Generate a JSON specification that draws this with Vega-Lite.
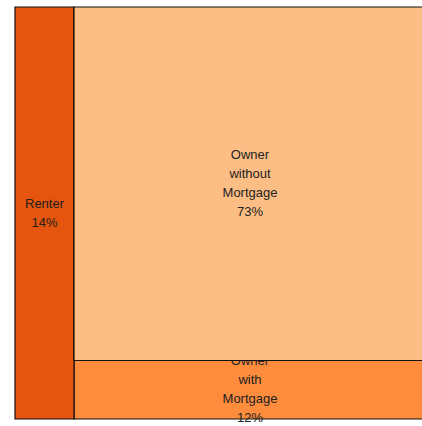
{
  "$schema": "https://vega.github.io/schema/vega-lite/v6.json",
  "autosize": "none",
  "padding": {"left": 15, "top": 7, "right": 0, "bottom": 7},
  "width": 411,
  "height": 412,
  "background": "white",
  "config": {"view": {"stroke": null}},
  "data": {"values": [
    {"tenure": "Renter", "label": "Renter\n14%", "lines": 2, "x0": 0, "x1": 14.36, "y0": 0, "y1": 100},
    {"tenure": "Owner without Mortgage", "label": "Owner\nwithout\nMortgage\n73%", "lines": 4, "x0": 14.36, "x1": 100, "y0": 0, "y1": 85.8},
    {"tenure": "Owner with Mortgage", "label": "Owner\nwith\nMortgage\n12%", "lines": 4, "x0": 14.36, "x1": 100, "y0": 85.8, "y1": 100}
  ]},
  "transform": [
    {"calculate": "(datum.x0 + datum.x1) / 2", "as": "xm"},
    {"calculate": "(datum.y0 + datum.y1) / 2", "as": "ym"}
  ],
  "encoding": {
    "x": {"field": "xm", "type": "quantitative", "scale": {"domain": [0, 100]}, "axis": null},
    "y": {"field": "ym", "type": "quantitative", "scale": {"domain": [0, 100], "reverse": true}, "axis": null}
  },
  "layer": [
    {
      "transform": [{"filter": "datum.tenure == 'Owner with Mortgage'"}],
      "mark": {"type": "rect", "stroke": "#111", "strokeWidth": 1.2},
      "encoding": {
        "x": {"field": "x0", "type": "quantitative"},
        "x2": {"field": "x1"},
        "y": {"field": "y0", "type": "quantitative"},
        "y2": {"field": "y1"},
        "color": {"field": "tenure", "type": "nominal", "legend": null,
          "scale": {"domain": ["Renter", "Owner without Mortgage", "Owner with Mortgage"], "range": ["#e6550d", "#fdbe85", "#fd8d3c"]}}
      }
    },
    {
      "transform": [{"filter": "datum.tenure == 'Owner with Mortgage'"}],
      "mark": {"type": "text", "lineBreak": "\n", "fontSize": 13, "font": "Liberation Sans", "color": "#222", "align": "center", "baseline": "middle", "lineHeight": 19, "dy": -28.5},
      "encoding": {"text": {"field": "label"}}
    },
    {
      "transform": [{"filter": "datum.tenure != 'Owner with Mortgage'"}],
      "mark": {"type": "rect", "stroke": "#111", "strokeWidth": 1.2},
      "encoding": {
        "x": {"field": "x0", "type": "quantitative"},
        "x2": {"field": "x1"},
        "y": {"field": "y0", "type": "quantitative"},
        "y2": {"field": "y1"},
        "color": {"field": "tenure", "type": "nominal", "legend": null}
      }
    },
    {
      "transform": [{"filter": "datum.lines == 2"}],
      "mark": {"type": "text", "lineBreak": "\n", "fontSize": 13, "font": "Liberation Sans", "color": "#222", "align": "center", "baseline": "middle", "lineHeight": 19, "dy": -9.5},
      "encoding": {"text": {"field": "label"}}
    },
    {
      "transform": [{"filter": "datum.tenure == 'Owner without Mortgage'"}],
      "mark": {"type": "text", "lineBreak": "\n", "fontSize": 13, "font": "Liberation Sans", "color": "#222", "align": "center", "baseline": "middle", "lineHeight": 19, "dy": -28.5},
      "encoding": {"text": {"field": "label"}}
    }
  ]
}
